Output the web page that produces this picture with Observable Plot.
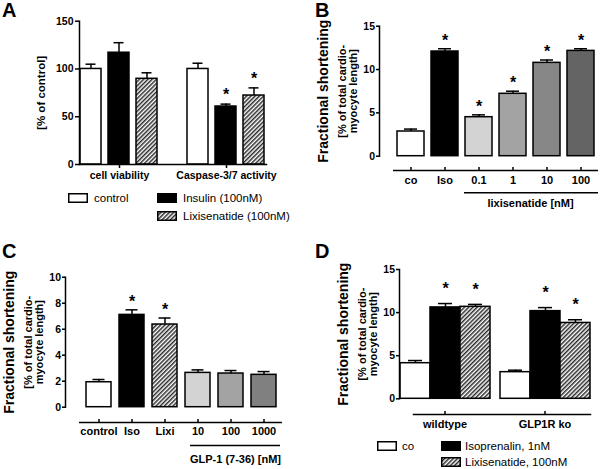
<!DOCTYPE html>
<html><head><meta charset="utf-8">
<script src="https://cdn.jsdelivr.net/npm/d3@7"></script>
<script src="https://cdn.jsdelivr.net/npm/@observablehq/plot@0.6"></script>
<style>
body{margin:0;background:#fff;font-family:"Liberation Sans",Arial,sans-serif;}
#root{position:relative;width:600px;height:469px;overflow:hidden;background:#fff;}
.panel{position:absolute;}
.letter{position:absolute;font-weight:bold;font-size:20px;line-height:20px;}
.leg{position:absolute;font-size:11.5px;display:flex;align-items:center;white-space:nowrap;height:16px;}
.leg svg{display:block;}
</style></head>
<body>
<svg width="0" height="0" style="position:absolute">
  <defs>
    <pattern id="hatch" patternUnits="userSpaceOnUse" width="3" height="3" patternTransform="rotate(45)">
      <rect width="3" height="3" fill="#ffffff"/>
      <line x1="0.75" y1="0" x2="0.75" y2="3" stroke="#2a2a2a" stroke-width="1.5"/>
    </pattern>
  </defs>
</svg>
<div id="root"></div>
<script>
// ---------- data ----------
const aGroups = ["cell viability", "Caspase-3/7 activity"];
const aSeries = ["control", "Insulin (100nM)", "Lixisenatide (100nM)"];
const aMean = [[100, 117, 89.7], [100, 60.7, 72.2]];
const aSem  = [[5, 10.5, 6.3], [6, 2.5, 8]];
const aSig  = [[false, false, false], [false, true, true]];
const aTicks = [0, 50, 100, 150];
const aYLabel = "[% of control]";

const bCats = ["co", "Iso", "0.1", "1", "10", "100"];
const bMean = [2.85, 12.08, 4.5, 7.2, 10.77, 12.15];
const bSem  = [0.28, 0.32, 0.27, 0.3, 0.33, 0.25];
const bSig  = [false, true, true, true, true, true];
const bTicks = [0, 5, 10, 15];
const bGroupLabel = "lixisenatide [nM]";

const cCats = ["control", "Iso", "Lixi", "10", "100", "1000"];
const cMean = [1.92, 7.1, 6.36, 2.64, 2.59, 2.49];
const cSem  = [0.21, 0.39, 0.5, 0.23, 0.23, 0.25];
const cSig  = [false, true, true, false, false, false];
const cTicks = [0, 2, 4, 6, 8, 10];
const cGroupLabel = "GLP-1 (7-36) [nM]";

const dGroups = ["wildtype", "GLP1R ko"];
const dSeries = ["co", "Isoprenalin, 1nM", "Lixisenatide, 100nM"];
const dMean = [[4.13, 10.6, 10.67], [3.09, 10.17, 8.8]];
const dSem  = [[0.31, 0.45, 0.28], [0.23, 0.41, 0.37]];
const dSig  = [[false, true, true], [false, true, true]];
const dTicks = [0, 5, 10, 15];

const fsLabel1 = "Fractional shortening";
const fsLabel2 = "[% of total cardio-";
const fsLabel3 = "myocyte length]";

// ---------- styles ----------
const HATCH = "url(#hatch)";
const aFills = ["#ffffff", "#000000", HATCH];
const bFills = ["#ffffff", "#000000", "#d3d3d3", "#a3a3a3", "#878787", "#646464"];
const cFills = ["#ffffff", "#000000", HATCH, "#d3d3d3", "#a3a3a3", "#808080"];
const dFills = ["#ffffff", "#000000", HATCH];
const FONT = '"Liberation Sans", Arial, sans-serif';
const SW = 1.5;
const baseStyle = {fontFamily: FONT, fontSize: "10.5px", fontWeight: "bold", color: "#000", background: "transparent", overflow: "visible"};
const CENTER = {textAnchor: "middle", lineAnchor: "middle"};

const root = document.getElementById("root");
function place(node, left, top) {
  const d = document.createElement("div");
  d.className = "panel"; d.style.left = left + "px"; d.style.top = top + "px";
  d.appendChild(node); root.appendChild(d);
}
function letter(t, left, top) {
  const d = document.createElement("div");
  d.className = "letter"; d.textContent = t;
  d.style.left = left + "px"; d.style.top = top + "px";
  root.appendChild(d);
}
function legendItem(label, fill, left, cy, gap) {
  const d = document.createElement("div");
  d.className = "leg"; d.style.left = left + "px"; d.style.top = (cy - 8) + "px";
  d.innerHTML = `<svg width="20" height="10"><rect x="0.75" y="0.75" width="18.5" height="8.5" fill="${fill}" stroke="#000" stroke-width="1.5"/></svg><span style="margin-left:${gap}px">${label}</span>`;
  root.appendChild(d);
}
function errMarks(data, xKey, inset, starDy, extra = {}) {
  return [
    Plot.ruleX(data, {x: xKey, y1: "mean", y2: d => d.mean + d.sem, strokeWidth: SW, ...extra}),
    Plot.tickY(data, {x: xKey, y: d => d.mean + d.sem, insetLeft: inset, insetRight: inset, strokeWidth: SW, ...extra}),
    Plot.text(data.filter(d => d.sig), {x: xKey, y: d => d.mean + d.sem, text: () => "*", dy: starDy, fontSize: 16, ...CENTER, ...extra})
  ];
}
function fsLabels(facet) {
  const o = facet ? {facet: "super"} : {};
  return [
    Plot.text([fsLabel1], {frameAnchor: "left", rotate: -90, dx: -56, fontSize: 14, ...CENTER, ...o}),
    Plot.text([fsLabel2], {frameAnchor: "left", rotate: -90, dx: -37.5, fontSize: 11, ...CENTER, ...o}),
    Plot.text([fsLabel3], {frameAnchor: "left", rotate: -90, dx: -26.5, fontSize: 11, ...CENTER, ...o})
  ];
}

// ---------- Panel A ----------
const aData = aGroups.flatMap((g, gi) => aSeries.map((s, si) => ({group: g, series: s, mean: aMean[gi][si], sem: aSem[gi][si], sig: aSig[gi][si]})));
place(Plot.plot({
  width: 300, height: 190, marginLeft: 65, marginRight: 17, marginTop: 20.7, marginBottom: 26,
  style: baseStyle,
  fx: {domain: aGroups, paddingInner: 0.257, paddingOuter: 0.14, align: 0.45},
  x: {domain: aSeries, paddingInner: 0.24, paddingOuter: 0, axis: null},
  y: {domain: [0, 150]},
  color: {domain: aSeries, range: aFills},
  marks: [
    Plot.barY(aData, {fx: "group", x: "series", y: "mean", fill: "series", stroke: "#000", strokeWidth: SW}),
    ...errMarks(aData, "series", 5.5, -9, {fx: "group"}),
    Plot.frame({anchor: "left", strokeWidth: SW, facet: "super"}),
    Plot.frame({anchor: "bottom", strokeWidth: SW, facet: "super"}),
    Plot.axisY({ticks: aTicks, tickSize: 4, tickPadding: 2, label: null, strokeWidth: SW, fontSize: 10.5}),
    Plot.axisFx({anchor: "bottom", tickSize: 4, tickPadding: 3, label: null, strokeWidth: SW, fontSize: 10.5}),
    Plot.text([aYLabel], {frameAnchor: "left", rotate: -90, dx: -38, fontSize: 11.5, ...CENTER, facet: "super"})
  ]
}), 0, 0);

// ---------- Panel B ----------
const bData = bCats.map((c, i) => ({cat: c, mean: bMean[i], sem: bSem[i], sig: bSig[i]}));
place(Plot.plot({
  width: 300, height: 215, marginLeft: 79, marginRight: 2, marginTop: 25.7, marginBottom: 59.3,
  style: baseStyle,
  x: {domain: bCats, paddingInner: 0.2, paddingOuter: 0.32, align: 0.816},
  y: {domain: [0, 15]},
  color: {domain: bCats, range: bFills},
  marks: [
    Plot.barY(bData, {x: "cat", y: "mean", fill: "cat", stroke: "#000", strokeWidth: SW}),
    ...errMarks(bData, "cat", 7, -8),
    Plot.frame({anchor: "left", strokeWidth: SW}),
    Plot.axisY({ticks: bTicks, tickSize: 3, tickPadding: 1.5, label: null, strokeWidth: SW, fontSize: 10.5}),
    Plot.ruleY([0], {dy: 14.3, insetLeft: 14, strokeWidth: SW}),
    Plot.axisX({tickSize: 3, dy: 11.3, tickPadding: 6, label: null, strokeWidth: SW, fontSize: 11}),
    Plot.ruleY([0], {dy: 36.6, insetLeft: 85, strokeWidth: SW}),
    Plot.text([bGroupLabel], {frameAnchor: "bottom-right", dx: -68, dy: 47.3, fontSize: 11, ...CENTER}),
    ...fsLabels(false)
  ]
}), 300, 0);

// ---------- Panel C ----------
const cData = cCats.map((c, i) => ({cat: c, mean: cMean[i], sem: cSem[i], sig: cSig[i]}));
place(Plot.plot({
  width: 300, height: 239, marginLeft: 65, marginRight: 18, marginTop: 46.7, marginBottom: 62.3,
  style: baseStyle,
  x: {domain: cCats, paddingInner: 0.23, paddingOuter: 0.335, align: 0.78},
  y: {domain: [0, 10]},
  color: {domain: cCats, range: cFills},
  marks: [
    Plot.barY(cData, {x: "cat", y: "mean", fill: "cat", stroke: "#000", strokeWidth: SW}),
    ...errMarks(cData, "cat", 6.5, -8),
    Plot.frame({anchor: "left", strokeWidth: SW}),
    Plot.axisY({ticks: cTicks, tickSize: 3, tickPadding: 1.5, label: null, strokeWidth: SW, fontSize: 10.5}),
    Plot.ruleY([0], {dy: 15.3, insetLeft: 14, strokeWidth: SW}),
    Plot.axisX({tickSize: 3, dy: 12.3, tickPadding: 5, label: null, strokeWidth: SW, fontSize: 11}),
    Plot.ruleY([0], {dy: 38.3, insetLeft: 125, insetRight: 2, strokeWidth: SW}),
    Plot.text([cGroupLabel], {frameAnchor: "bottom-right", dx: -47, dy: 52.6, fontSize: 11, ...CENTER}),
    ...fsLabels(false)
  ]
}), 0, 230);

// ---------- Panel D ----------
const dData = dGroups.flatMap((g, gi) => dSeries.map((s, si) => ({group: g, series: s, mean: dMean[gi][si], sem: dSem[gi][si], sig: dSig[gi][si]})));
place(Plot.plot({
  width: 300, height: 205, marginLeft: 79, marginRight: 2, marginTop: 39, marginBottom: 36.7,
  style: baseStyle,
  fx: {domain: dGroups, paddingInner: 0.0894, paddingOuter: 0.132, align: 0.726},
  x: {domain: dSeries, padding: 0, axis: null},
  y: {domain: [0, 15]},
  color: {domain: dSeries, range: dFills},
  marks: [
    Plot.barY(dData, {fx: "group", x: "series", y: "mean", fill: "series", stroke: "#000", strokeWidth: SW}),
    ...errMarks(dData, "series", 8, -15, {fx: "group"}),
    Plot.frame({anchor: "left", strokeWidth: SW, facet: "super"}),
    Plot.axisY({ticks: dTicks, tickSize: 3, tickPadding: 1.5, label: null, strokeWidth: SW, fontSize: 10.5}),
    Plot.frame({anchor: "bottom", dy: 15.7, insetLeft: 14, strokeWidth: SW, facet: "super"}),
    Plot.axisFx({anchor: "bottom", tickSize: 3, dy: 12.7, tickPadding: 6, label: null, strokeWidth: SW, fontSize: 11}),
    ...fsLabels(true)
  ]
}), 300, 230);

// ---------- letters & legends ----------
letter("A", 2, 0);
letter("B", 315, 0);
letter("C", 2, 241);
letter("D", 315, 241);

legendItem(aSeries[0], aFills[0], 68, 198, 6);
legendItem(aSeries[1], aFills[1], 157, 198, 6);
legendItem(aSeries[2], aFills[2], 157, 216, 6);

legendItem(dSeries[0], dFills[0], 377, 446, 5);
legendItem(dSeries[1], dFills[1], 441, 446, 4);
legendItem(dSeries[2], dFills[2], 441, 462, 4);
</script>
</body></html>
